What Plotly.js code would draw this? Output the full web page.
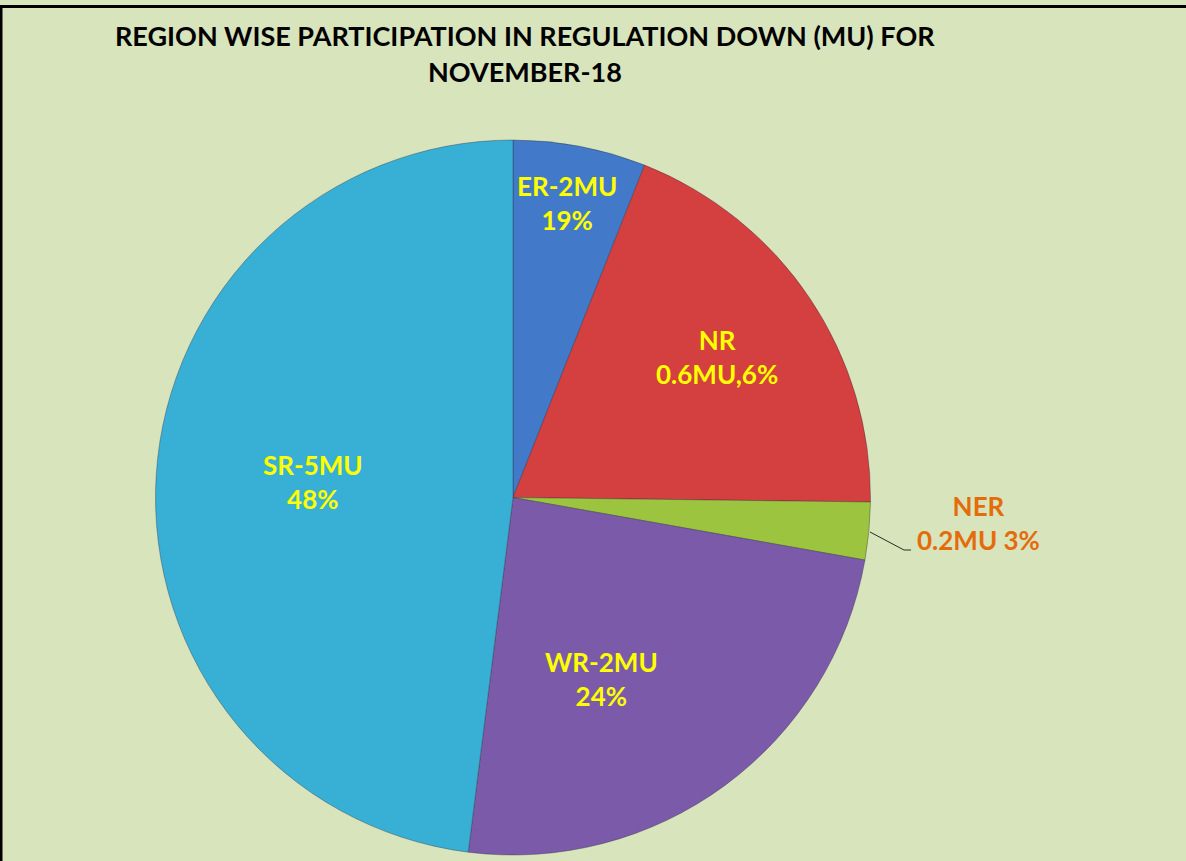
<!DOCTYPE html>
<html>
<head>
<meta charset="utf-8">
<script src="https://cdn.plot.ly/plotly-3.0.1.min.js"></script>
<style>
html,body{margin:0;padding:0;background:#D8E4BC;}
#chart{width:1186px;height:861px;}
</style>
</head>
<body>
<div id="chart"></div>
<script>
// Data (slice sizes in %, labels as printed)
const regions = ["ER", "NR", "NER", "WR", "SR"];
const shares = [6, 19.2, 2.6, 24.2, 48];
const labelTexts = ["ER-2MU<br>19%", "NR<br>0.6MU,6%", "NER<br>0.2MU 3%", "WR-2MU<br>24%", "SR-5MU<br>48%"];
const sliceColors = ["#4279C8", "#D43F3F", "#9DC43E", "#7B5BA9", "#38AFD4"];
const titleLines = ["REGION WISE PARTICIPATION IN REGULATION DOWN (MU) FOR", "NOVEMBER-18"];

const W = 1186, H = 861;
const px = x => x / W;
const py = y => 1 - y / H;

// label anchor positions (pixel) for each slice label
const labelPos = [[567, 203], [717, 357], [978, 523], [601, 679], [313, 482]];
const labelColors = ["#FFFF00", "#FFFF00", "#E46C0A", "#FFFF00", "#FFFF00"];

const annotations = [];
titleLines.forEach((t, i) => {
  annotations.push({
    text: "<b>" + t + "</b>", xref: "paper", yref: "paper",
    x: px(525), y: py(i === 0 ? 35 : 72), xanchor: "center", yanchor: "middle",
    showarrow: false, font: {family: "Lato, 'Open Sans', sans-serif", size: 27, color: "#000"}
  });
});
regions.forEach((r, i) => {
  annotations.push({
    text: "<b>" + labelTexts[i] + "</b>", xref: "paper", yref: "paper",
    x: px(labelPos[i][0]), y: py(labelPos[i][1]), xanchor: "center", yanchor: "middle",
    showarrow: false, align: "center",
    font: {family: "Lato, 'Open Sans', sans-serif", size: 26, color: labelColors[i]}
  });
});

const shapes = [
  {type: "path", xref: "paper", yref: "paper",
   path: `M ${px(870)} ${py(532)} L ${px(904)} ${py(550)} L ${px(911)} ${py(550)}`,
   line: {color: "#2a2a2a", width: 1}},
  {type: "line", xref: "paper", yref: "paper", x0: 0, x1: 1, y0: py(6.5), y1: py(6.5), line: {color: "#000", width: 3}},
  {type: "line", xref: "paper", yref: "paper", x0: px(1), x1: px(1), y0: 0, y1: py(6.5), line: {color: "#000", width: 3}}
];

const trace = {
  type: "pie",
  values: shares,
  labels: regions,
  sort: false,
  direction: "clockwise",
  rotation: 0,
  textinfo: "none",
  hoverinfo: "label+percent",
  marker: {colors: sliceColors, line: {color: "rgba(40,40,60,0.35)", width: 1}},
  domain: {x: [px(155), px(871)], y: [py(855), py(140)]},
  showlegend: false
};

Plotly.newPlot("chart", [trace], {
  width: W, height: H,
  margin: {l: 0, r: 0, t: 0, b: 0},
  paper_bgcolor: "#D8E4BC",
  plot_bgcolor: "#D8E4BC",
  showlegend: false,
  annotations: annotations,
  shapes: shapes
}, {displayModeBar: false, staticPlot: true});
</script>
</body>
</html>
